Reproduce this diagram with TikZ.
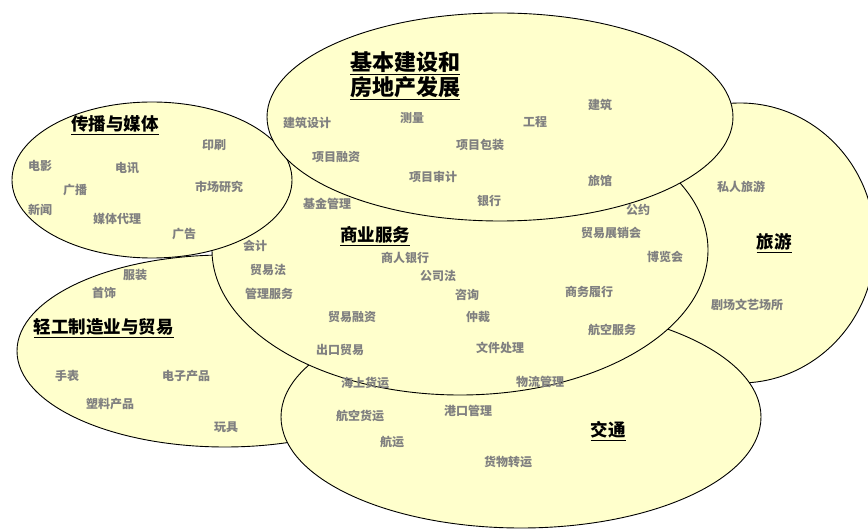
\documentclass[tikz,border=0pt]{standalone}
\usepackage{fontspec}
\setmainfont{Noto Sans CJK SC}
\usepackage{tikz}
\usetikzlibrary{shapes.geometric}
\definecolor{regionfill}{HTML}{FFFFCC}
\definecolor{itemgray}{HTML}{808080}

\begin{document}
\begin{tikzpicture}[x=1pt,y=-1pt,
        region/.style={ellipse, draw, fill=regionfill, line width=0.9pt, inner sep=0pt},
        heading/.style={font=\fontsize{17.5}{21}\selectfont\bfseries, inner sep=0pt},
        item/.style={font=\fontsize{12}{14}\selectfont\bfseries, text=itemgray, inner sep=0pt}]
        \useasboundingbox (0,0) rectangle (868,529);
        \node [region, minimum width=270pt, minimum height=280pt] (tour) at (740,243) {};
        \node [region, minimum width=416pt, minimum height=192pt] (light) at (225,351) {};
        \node [region, minimum width=480pt, minimum height=222pt] (trans) at (521,417) {};
        \node [region, minimum width=496pt, minimum height=290pt] (biz) at (460,250) {};
        \node [region, minimum width=280pt, minimum height=156pt] (media) at (152,180) {};
        \node [region, minimum width=466pt, minimum height=208pt] (build) at (500,117) {};
        \node [heading, font=\fontsize{22}{25}\selectfont\bfseries, align=center] (buildT) at (405,76)
            {\underline{基本建设和}\\\underline{房地产发展}};
        \node [heading] (mediaT) at (115,125) {\underline{传播与媒体}};
        \node [heading] (bizT) at (375,236) {\underline{商业服务}};
        \node [heading] (lightT) at (104,328) {\underline{轻工制造业与贸易}};
        \node [heading] (transT) at (608,431) {\underline{交通}};
        \node [heading] (tourT) at (774,243) {\underline{旅游}};
        \foreach \x/\y/\t [count=\i] in {
                214/145/印刷, 40/166/电影, 127/168/电讯, 75/190/广播,
                219/187/市场研究, 40/210/新闻, 117/219/媒体代理, 184/234/广告,
                307/123/建筑设计, 412/118/测量, 535/122/工程, 600/105/建筑,
                480/145/项目包装, 336/157/项目融资, 433/177/项目审计, 600/181/旅馆,
                489/201/银行, 327/204/基金管理, 638/210/公约,
                255/246/会计, 611/233/贸易展销会, 405/258/商人银行, 665/257/博览会,
                268/270/贸易法, 438/276/公司法, 269/294/管理服务, 467/295/咨询,
                589/292/商务履行, 352/317/贸易融资, 478/317/仲裁, 612/330/航空服务,
                340/350/出口贸易, 500/348/文件处理,
                365/383/海上货运, 540/382/物流管理, 360/416/航空货运, 468/411/港口管理,
                392/442/航运, 508/462/货物转运,
                135/275/服装, 104/293/首饰, 67/376/手表, 186/376/电子产品,
                110/404/塑料产品, 226/427/玩具,
                741/187/私人旅游, 747/305/剧场文艺场所}
            \node [item] (w\i) at (\x,\y) {\t};
\end{tikzpicture}
\end{document}
